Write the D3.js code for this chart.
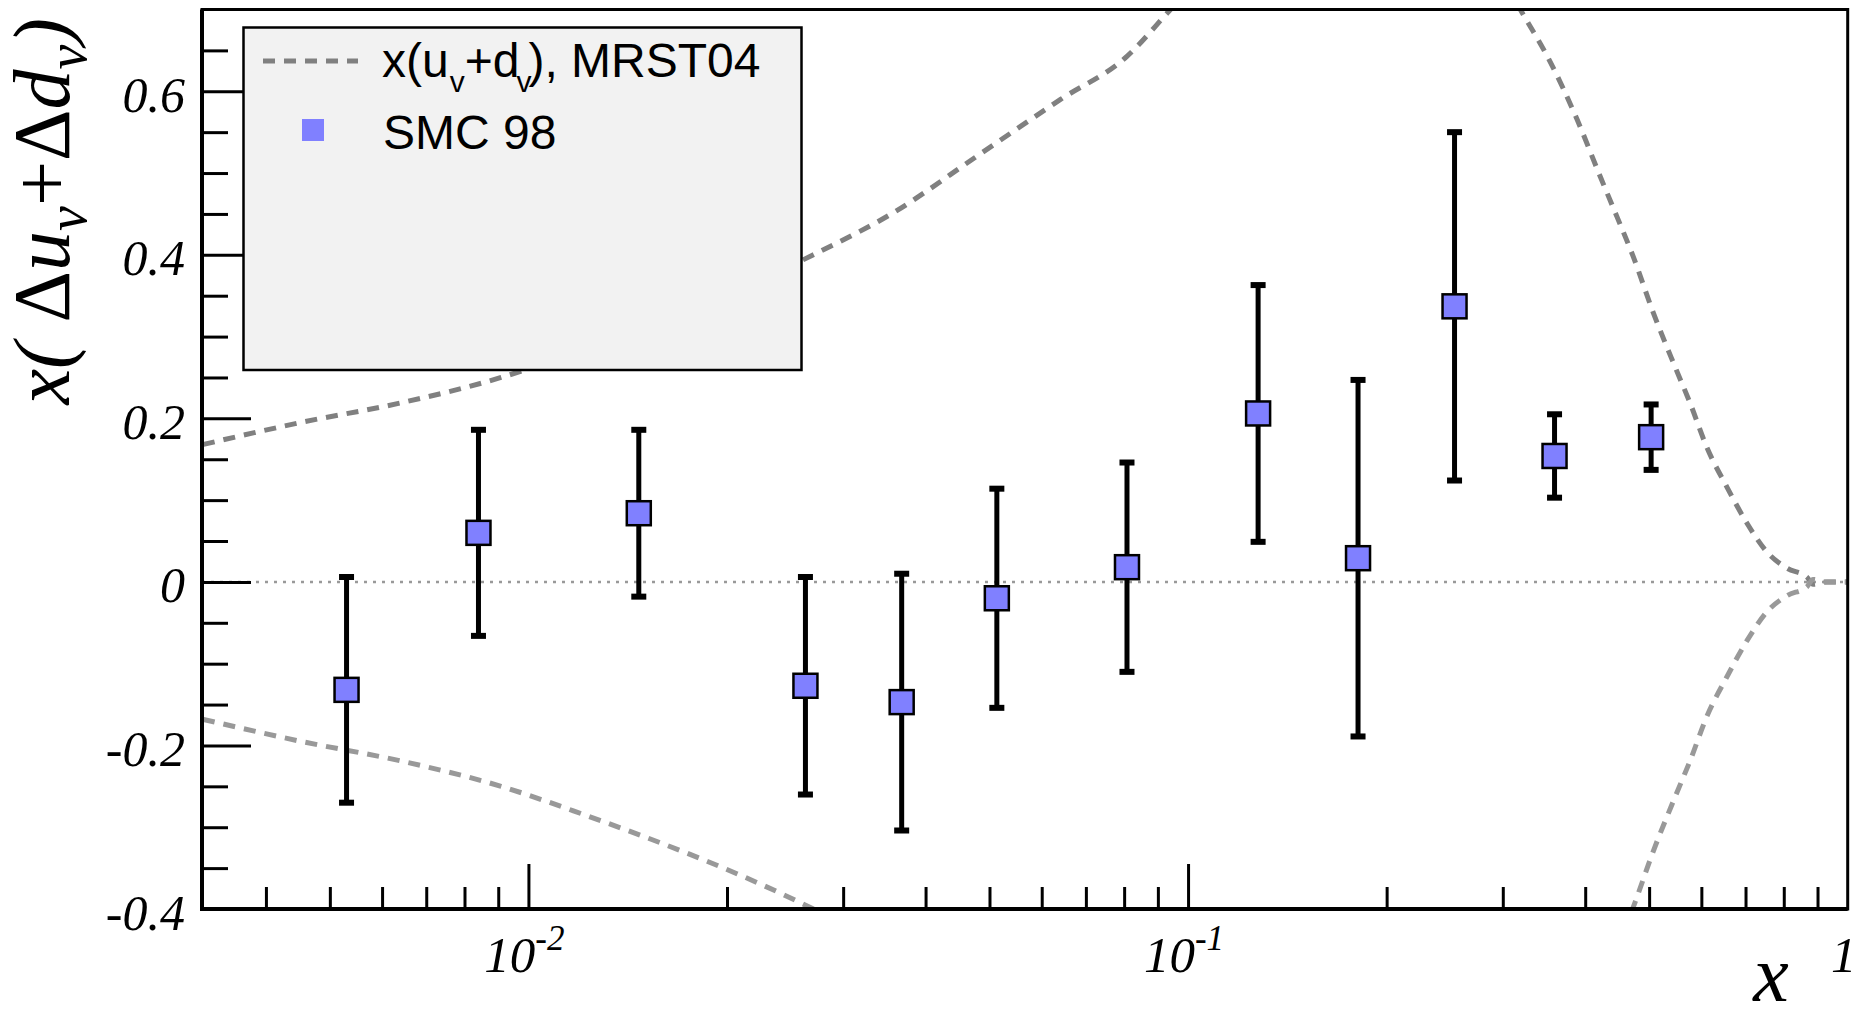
<!DOCTYPE html>
<html>
<head>
<meta charset="utf-8">
<script src="https://cdn.jsdelivr.net/npm/d3@7"></script>
<style>
	body { margin: 0; background: #fff; }
	svg { display: block; }
	.tick text { font-family: "Liberation Serif", "Times New Roman", serif; font-style: italic; font-size: 50px; fill: #000; }
	.tick line { stroke: #000; stroke-width: 3; }
	.serif { font-family: "Liberation Serif", "Times New Roman", serif; fill: #000; }
	.legend--text { font-family: "Liberation Sans", Arial, sans-serif; font-size: 48px; fill: #000; }
</style>
</head>
<body>
<div id="graphic"></div>
<script>
// SMC 98 points
let smcX = [0.0053, 0.0084, 0.0147, 0.0263, 0.0368, 0.0513, 0.0808, 0.1277, 0.181, 0.2535, 0.3594, 0.5035];
let smcY = [-0.132, 0.060, 0.084, -0.127, -0.147, -0.020, 0.018, 0.206, 0.029, 0.337, 0.154, 0.177];
let smcErr = [0.138, 0.126, 0.102, 0.133, 0.157, 0.134, 0.128, 0.157, 0.218, 0.213, 0.051, 0.040];

// MRST04 x(uv+dv), drawn as +/- envelope
let mrstX = [0.00321, 0.00452, 0.00641, 0.00909, 0.0117, 0.02695, 0.03583, 0.04793, 0.06407, 0.08086, 0.09406,
	0.13, 0.18, 0.25, 0.3189, 0.354, 0.3886, 0.4214, 0.4467, 0.4729, 0.5069, 0.5476, 0.577, 0.612, 0.656,
	0.7036, 0.7548, 0.809, 0.868, 0.886, 0.93, 1.0];
let mrstY = [0.168, 0.195, 0.219, 0.250, 0.280, 0.3995, 0.452, 0.521, 0.590, 0.643, 0.700,
	0.82, 0.88, 0.85, 0.700, 0.636, 0.566, 0.496, 0.447, 0.398, 0.330, 0.2626, 0.2185, 0.164, 0.116,
	0.0718, 0.0363, 0.0168, 0.0057, -0.003, 0.0, 0.0];

// axis ticks
let xMajorTicks = [0.01, 0.1, 1];
let xTickBase = ["10", "10", "1"];
let xTickExp = ["-2", "-1", ""];
let xMinorTicks = [0.004, 0.005, 0.006, 0.007, 0.008, 0.009, 0.02, 0.03, 0.04, 0.05, 0.06, 0.07, 0.08, 0.09,
	0.2, 0.3, 0.4, 0.5, 0.6, 0.7, 0.8, 0.9];
let yMajorTicks = [-0.4, -0.2, 0, 0.2, 0.4, 0.6];
let yTickLabels = ["-0.4", "-0.2", "0", "0.2", "0.4", "0.6"];
let yMinorTicks = [-0.35, -0.3, -0.25, -0.15, -0.1, -0.05, 0.05, 0.1, 0.15, 0.25, 0.3, 0.35, 0.45, 0.5, 0.55, 0.65];

let width = 1871, height = 1010;
let frame = { left: 202, right: 1847.7, top: 9.5, bottom: 909 };

let svg = d3.select('#graphic').append('svg')
	.attr('width', width)
	.attr('height', height);

const x = d3.scaleLog().domain([0.0032, 1]).range([frame.left, frame.right]);
const y = d3.scaleLinear().domain([-0.4, 0.7]).range([frame.bottom, frame.top]);

svg.append('clipPath').attr('id', 'clip')
	.append('rect')
	.attr('x', frame.left).attr('y', frame.top)
	.attr('width', frame.right - frame.left).attr('height', frame.bottom - frame.top);

//zero line
svg.append('line')
	.attr('x1', frame.left).attr('x2', frame.right)
	.attr('y1', y(0)).attr('y2', y(0))
	.attr('stroke', '#999').attr('stroke-width', 2.5).attr('stroke-dasharray', '3,6');

//curves
let curve = d3.zip(mrstX, mrstY);
let line = d3.line().curve(d3.curveMonotoneX);

let curves = svg.append('g').attr('clip-path', 'url(#clip)');
curves.append('path')
	.attr('d', line(curve.map((d) => [x(d[0]), y(d[1])])))
	.attr('fill', 'none').attr('stroke', '#808080').attr('stroke-width', 5).attr('stroke-dasharray', '12,9');
curves.append('path')
	.attr('d', line(curve.map((d) => [x(d[0]), y(-d[1])])))
	.attr('fill', 'none').attr('stroke', '#999').attr('stroke-width', 5).attr('stroke-dasharray', '12,9');

// axes, ticks pointing inwards
svg.append('g').attr('class', 'x axis')
	.attr('transform', 'translate(0,' + frame.bottom + ')')
	.call(d3.axisBottom(x).tickValues(xMinorTicks).tickSize(-22).tickFormat(''))
	.call((g) => g.select('.domain').remove());
svg.append('g').attr('class', 'x axis')
	.attr('transform', 'translate(0,' + frame.bottom + ')')
	.call(d3.axisBottom(x).tickValues(xMajorTicks.slice(0, 2)).tickSize(-45).tickFormat(''))
	.call((g) => g.select('.domain').remove());

svg.append('g').attr('class', 'y axis')
	.attr('transform', 'translate(' + frame.left + ',0)')
	.call(d3.axisLeft(y).tickValues(yMinorTicks).tickSize(-26).tickFormat(''))
	.call((g) => g.select('.domain').remove());
svg.append('g').attr('class', 'y axis')
	.attr('transform', 'translate(' + frame.left + ',0)')
	.call(d3.axisLeft(y).tickValues(yMajorTicks).tickSize(-49).tickPadding(17)
		.tickFormat((d, i) => yTickLabels[i]))
	.call((g) => g.select('.domain').remove())
	.selectAll('text').attr('dy', '0.4em');

// x tick labels with exponents
let xLabels = svg.append('g').selectAll('text')
	.data(d3.zip(xMajorTicks, xTickBase, xTickExp))
	.join('text')
	.attr('class', 'serif')
	.attr('font-style', 'italic')
	.attr('text-anchor', 'middle')
	.attr('x', (d) => x(d[0]) - (d[2] ? 4 : 4))
	.attr('y', 972);
xLabels.append('tspan').attr('font-size', 51).text((d) => d[1]);
xLabels.append('tspan').attr('font-size', 35).attr('dy', -22).text((d) => d[2]);

//frame
svg.append('rect')
	.attr('x', frame.left).attr('y', frame.top)
	.attr('width', frame.right - frame.left).attr('height', frame.bottom - frame.top)
	.attr('fill', 'none').attr('stroke', '#000').attr('stroke-width', 3);
svg.append('path')
	.attr('d', 'M' + frame.left + ',' + frame.top + 'V' + frame.bottom + 'H' + frame.right)
	.attr('fill', 'none').attr('stroke', '#000').attr('stroke-width', 4);

// axis titles
let yTitle = svg.append('text')
	.attr('class', 'serif')
	.attr('font-size', 80)
	.attr('text-anchor', 'end')
	.attr('transform', 'translate(69,18) rotate(-90)');
yTitle.append('tspan').attr('font-style', 'italic').text('x( ');
yTitle.append('tspan').text('Δ');
yTitle.append('tspan').attr('font-style', 'italic').text('u');
yTitle.append('tspan').attr('font-style', 'italic').attr('font-size', 56).attr('dy', 17).text('ν');
yTitle.append('tspan').attr('dy', -17).text('+Δ');
yTitle.append('tspan').attr('font-style', 'italic').text('d');
yTitle.append('tspan').attr('font-style', 'italic').attr('font-size', 56).attr('dy', 17).text('ν');
yTitle.append('tspan').attr('font-style', 'italic').attr('dy', -17).text(')');

svg.append('text')
	.attr('class', 'serif')
	.attr('font-size', 80)
	.attr('font-style', 'italic')
	.attr('text-anchor', 'middle')
	.attr('x', 1771).attr('y', 1001)
	.text('x');

//legend
let legend = svg.append('g');
legend.append('rect')
	.attr('x', 243.5).attr('y', 27.5).attr('width', 558).attr('height', 342.5)
	.attr('fill', '#f2f2f2').attr('stroke', '#000').attr('stroke-width', 2.5);
legend.append('line')
	.attr('x1', 263).attr('x2', 358).attr('y1', 61).attr('y2', 61)
	.attr('stroke', '#808080').attr('stroke-width', 5).attr('stroke-dasharray', '12,9');
legend.append('rect')
	.attr('x', 302).attr('y', 119).attr('width', 22).attr('height', 22)
	.attr('fill', '#8080ff');

let t1 = legend.append('text').attr('class', 'legend--text').attr('x', 382).attr('y', 77);
t1.append('tspan').text('x(u');
t1.append('tspan').attr('font-size', 30).attr('dy', 15).attr('dx', 1).text('v');
t1.append('tspan').attr('dy', -15).text('+d');
t1.append('tspan').attr('font-size', 30).attr('dy', 15).attr('dx', -3).text('v');
t1.append('tspan').attr('dy', -15).attr('dx', -3).text('), MRST04');

legend.append('text').attr('class', 'legend--text')
	.attr('x', 383).attr('y', 149)
	.text('SMC 98');

// data points
let points = svg.append('g').selectAll('g')
	.data(d3.zip(smcX, smcY, smcErr))
	.join('g')
	.attr('transform', (d) => 'translate(' + x(d[0]) + ',0)');

points.append('line')
	.attr('y1', (d) => y(d[1] - d[2])).attr('y2', (d) => y(d[1] + d[2]))
	.attr('stroke', '#000').attr('stroke-width', 5);
points.append('rect')
	.attr('x', -7.5).attr('width', 15).attr('height', 6)
	.attr('y', (d) => y(d[1] + d[2]) - 3);
points.append('rect')
	.attr('x', -7.5).attr('width', 15).attr('height', 6)
	.attr('y', (d) => y(d[1] - d[2]) - 3);
points.append('rect')
	.attr('x', -12).attr('width', 24).attr('height', 24)
	.attr('y', (d) => y(d[1]) - 12)
	.attr('fill', '#8080ff').attr('stroke', '#000').attr('stroke-width', 2.5);
</script>
</body>
</html>
